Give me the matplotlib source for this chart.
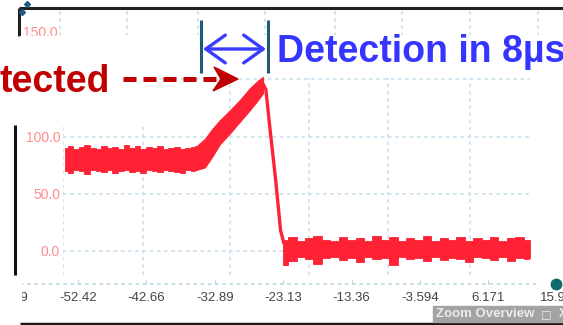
import matplotlib
matplotlib.use('Agg')
import matplotlib.pyplot as plt
from matplotlib.patches import Rectangle, Polygon, FancyArrowPatch, ArrowStyle

plt.rcParams['font.family'] = ['Liberation Sans', 'DejaVu Sans']

W, H = 563, 325

# time strip tick labels (us)
tick_vals = [-62.19, -52.42, -42.66, -32.89, -23.13, -13.36, -3.594, 6.171, 15.94]
tick_text = ['-62.19', '-52.42', '-42.66', '-32.89', '-23.13', '-13.36', '-3.594', '6.171', '15.94']
y_vals = [0, 50, 100]
y_text = ['0.0', '50.0', '100.0']

# signal band: high level (time us, upper edge, lower edge)
t_high = [-54.3, -53.5, -52.7, -51.9, -51.1, -50.3, -49.5, -48.7, -47.9, -47.1, -46.3,
          -45.5, -44.7, -43.9, -43.1, -42.3, -41.5, -40.7, -39.9, -39.1, -38.3, -37.5,
          -36.7, -35.9, -35.4]
up_high = [90, 92, 89, 91, 93, 90, 89, 92, 90, 91, 89, 93, 90, 92, 89, 91, 90, 92, 89, 90,
           91, 89, 90, 91, 92]
lo_high = [70, 68, 71, 70, 67, 71, 70, 69, 71, 68, 70, 71, 69, 70, 68, 71, 70, 69, 71, 70,
           69, 68, 71, 70, 71]
# ramp up to the peak
t_ramp = [-35.4, -34.3, -33.2, -32.2, -30.7, -29.3, -27.9, -26.7, -26.0]
up_ramp = [92, 98, 107, 114, 123, 132, 142, 149, 152]
lo_ramp = [71, 73, 83, 93, 103, 113, 123, 132, 138]
# falling edge
t_fall = [-26.0, -25.6, -25.0, -24.2, -23.5, -23.0]
v_fall = [146, 141, 106, 62, 18, 6]
# low level
t_low = [-23.1, -21.8, -20.6, -19.4, -18.2, -17.0, -15.8, -14.6, -13.4, -12.2, -11.0,
         -9.8, -8.6, -7.4, -6.2, -5.0, -3.8, -2.6, -1.4, -0.2, 1.0, 2.2, 3.4, 4.6, 5.8,
         7.0, 8.2, 9.4, 10.6, 11.8, 12.1]
up_low = [10, 12, 9, 11, 13, 10, 9, 12, 10, 11, 9, 13, 10, 12, 9, 11, 10, 13, 9, 11, 10,
          12, 9, 11, 10, 12, 9, 11, 12, 10, 10]
lo_low = [-12, -9, -5, -7, -11, -6, -5, -8, -6, -10, -5, -7, -6, -12, -5, -7, -6, -9, -5,
          -8, -6, -7, -10, -5, -6, -8, -5, -9, -6, -7, -6]


def px2t(x):  # pixel column -> time
    return -52.42 + (x - 78) * 9.765 / 68.4


def px2v(y):  # pixel row -> value
    return (251 - y) / 1.145


sig_c = '#ff2235'
grid_c = '#cfe4ee'
ylab_c = '#ff8c8c'

fig = plt.figure(figsize=(W / 100, H / 100), dpi=100)

# main plot
ax = fig.add_axes([63 / W, 1 - 275 / H, (545 - 63) / W, (275 - 70) / H])
ax.set_xlim(px2t(63), px2t(545))
ax.set_ylim(px2v(275), px2v(70))
ax.patch.set_alpha(0)
for s in ax.spines.values():
    s.set_visible(False)
for x, ytop in [(63, 125), (143, 125), (230, 78), (309, 78), (388, 78), (470, 78)]:
    ax.vlines(px2t(x), px2v(275), px2v(ytop), color=grid_c, lw=1.3, ls=(0, (2, 2)))
for v in y_vals:
    ax.hlines(v, px2t(63), px2t(530), color=grid_c, lw=1.3, ls=(0, (2, 2)))
ax.hlines(150, px2t(145), px2t(530), color=grid_c, lw=1.3, ls=(0, (2, 2)))

ax.fill_between(t_high, lo_high, up_high, step='mid', color=sig_c, lw=0.6, zorder=3)
ax.fill_between(t_ramp, lo_ramp, up_ramp, color=sig_c, lw=0.8, zorder=3)
ax.plot(t_fall, v_fall, color=sig_c, lw=2.4, zorder=3, solid_capstyle='butt')
ax.fill_between(t_low, lo_low, up_low, step='mid', color=sig_c, lw=0.6, zorder=3)

ax.set_xticks([])
ax.set_yticks(y_vals, y_text)
ax.tick_params(axis='y', length=0, pad=2, labelsize=10, labelcolor=ylab_c)

# time strip
sx = fig.add_axes([0, 1 - 284 / H, 1, 8 / H])
sx.set_xlim(px2t(0), px2t(W))
sx.patch.set_alpha(0)
for s in sx.spines.values():
    s.set_visible(False)
sx.set_yticks([])
sx.set_xticks(tick_vals, tick_text)
sx.tick_params(axis='x', direction='in', length=3, color='#c4ccd4', pad=5.5,
               labelsize=9.5, labelcolor='#444444')

# overlay in pixel coords
cv = fig.add_axes([0, 0, 1, 1], zorder=5)
cv.set_xlim(0, W)
cv.set_ylim(H, 0)
cv.axis('off')

cv.plot([19, W], [8, 8], color='#202020', lw=2.2, solid_capstyle='butt')
cv.plot([19, 19], [8, 36], color='#202020', lw=2.2, solid_capstyle='butt')
cv.plot([27, 22], [4, 12], 'D', ms=3, color='#1d5f80')
for x in [60, 127, 198, 265, 335, 402, 470, 538]:
    cv.plot([x, x], [11, 35], color=grid_c, lw=1.3, ls=(0, (2, 2)))
cv.text(58, 33, '150.0', ha='right', va='center', fontsize=10, color=ylab_c)
cv.add_patch(Rectangle((20, 36), 50, 12, color='white', zorder=3))
cv.plot([14.5, 14.5], [125, 275], color='#111111', lw=2.2, solid_capstyle='butt')
# left edge of the time strip is blank in the screenshot
cv.add_patch(Rectangle((0, 277), 21, 40, color='white', zorder=3))

cv.text(110, 92, 'tected', ha='right', va='baseline', fontsize=27,
        fontweight='bold', color='#c00000')
cv.plot([123, 216], [79, 79], color='#c00000', lw=3.6, dashes=(2.6, 1.4),
        dash_capstyle='butt', zorder=4)
cv.add_patch(Polygon([(238, 79), (214, 67), (221, 79), (213, 91)], closed=True,
                     color='#c00000', zorder=4))

for x in [201, 268]:
    cv.plot([x, x], [20, 73], color='#1f5a78', lw=2.2, solid_capstyle='butt', zorder=4)
cv.add_patch(FancyArrowPatch((203, 49), (266, 49),
                             arrowstyle=ArrowStyle('<->', head_length=14, head_width=10),
                             mutation_scale=1, lw=2.4, color='#3b3bff',
                             shrinkA=0, shrinkB=0, zorder=4))
cv.text(277, 62, 'Detection in 8µs', ha='left', va='baseline', fontsize=27,
        fontweight='bold', color='#3535ff')

cv.plot([20, 540], [283.5, 283.5], color='#c5dbe6', lw=1.3, ls=(0, (2, 2)))
cv.plot(556, 284, 'o', ms=7.5, color='#0d6b6b')
cv.add_patch(Rectangle((433, 306), 130, 16, color='#a3a3a3', zorder=3))
cv.text(436, 314, 'Zoom Overview', ha='left', va='center', fontsize=9.5,
        fontweight='bold', color='#ececec', zorder=4)
cv.text(546, 314, '□', ha='center', va='center', fontsize=8, color='#ececec',
        family='DejaVu Sans', zorder=4)
cv.text(559, 314, 'X', ha='left', va='center', fontsize=9, fontweight='bold',
        color='#ececec', zorder=4)
cv.plot([20, W], [323.5, 323.5], color='#1a1a1a', lw=2.5, solid_capstyle='butt')

fig.savefig('out.png', dpi=100)
